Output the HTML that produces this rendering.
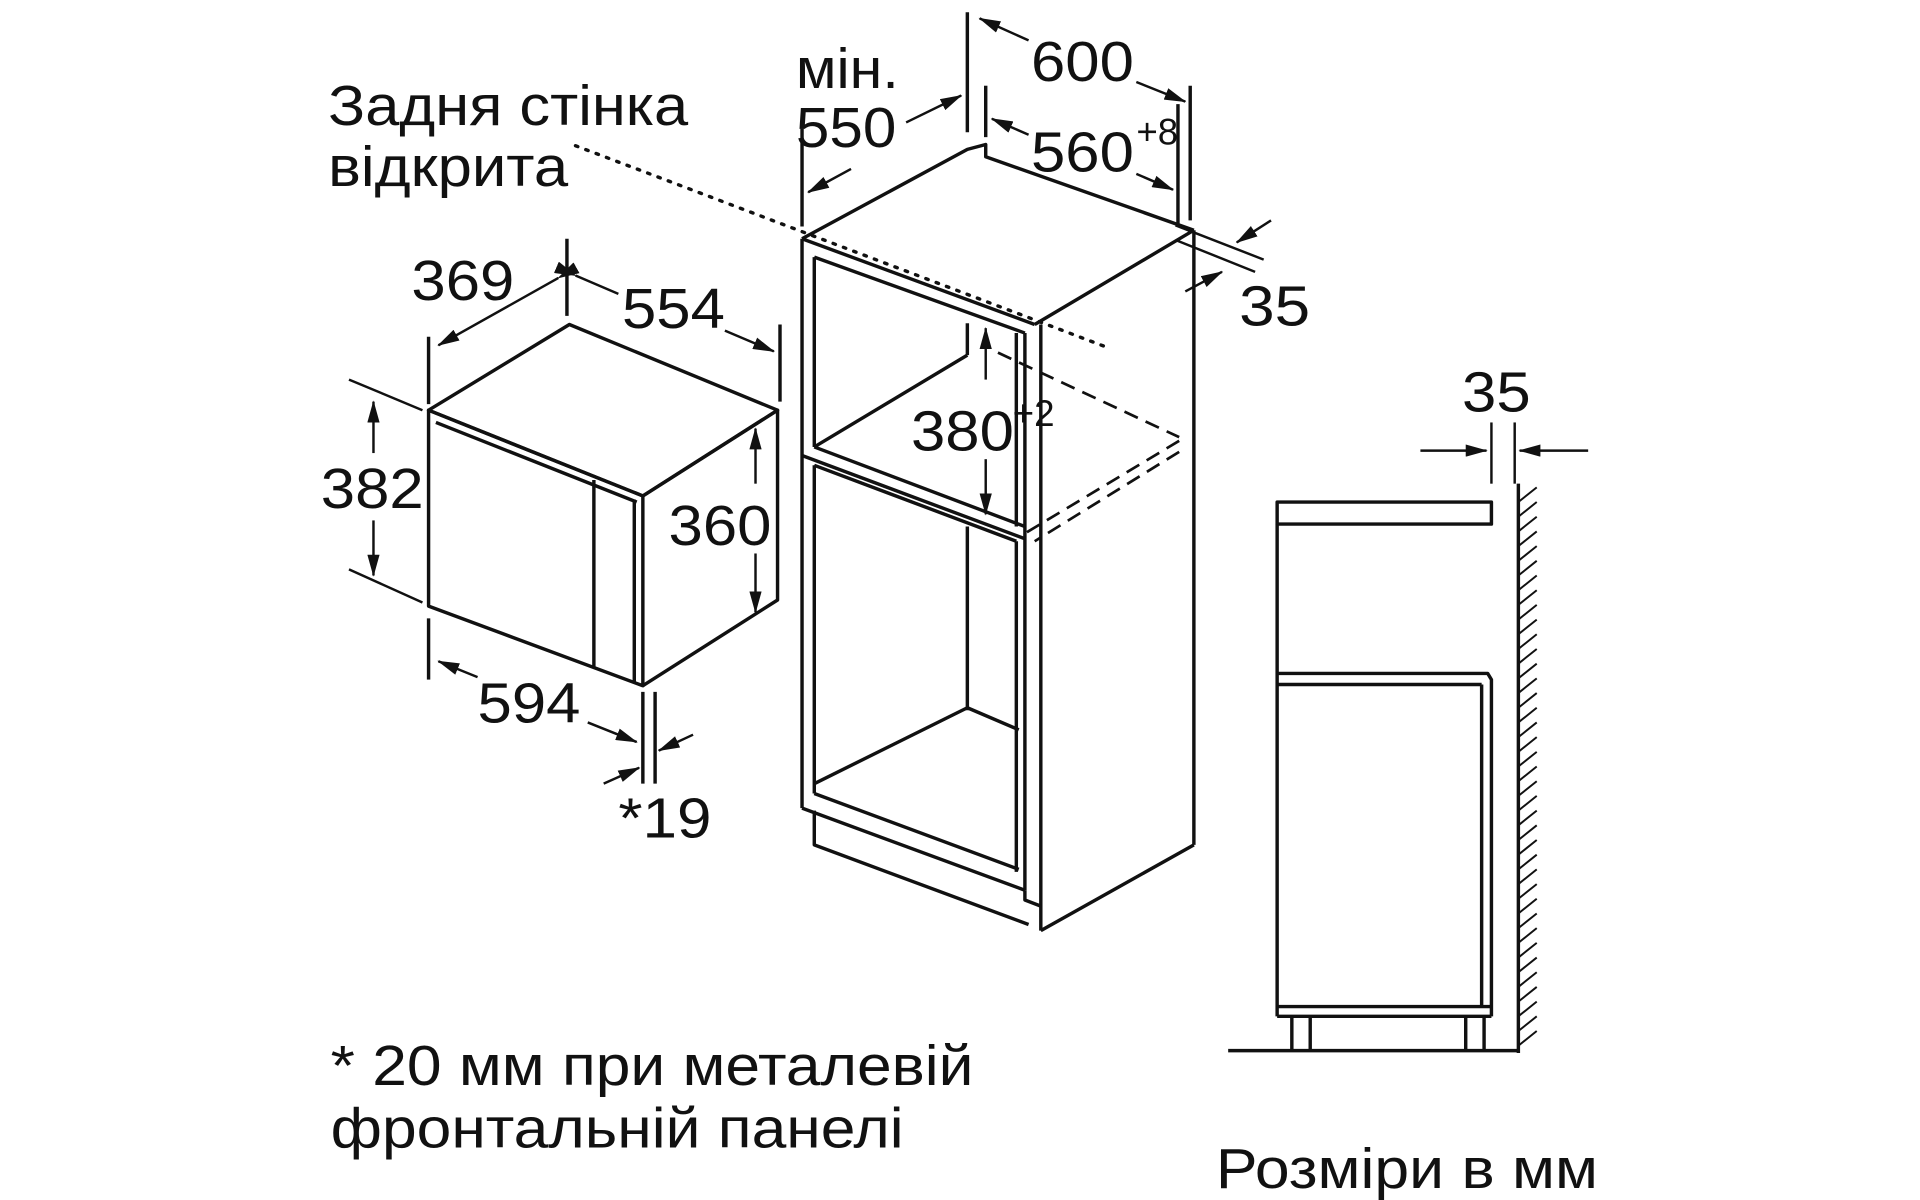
<!DOCTYPE html>
<html><head><meta charset="utf-8"><style>
html,body{margin:0;padding:0;background:#fff;}
svg{display:block;}
text{font-family:"Liberation Sans Narrow","Liberation Sans",sans-serif;fill:#111;}
</style></head><body>
<svg width="1920" height="1200" viewBox="0 0 1568 980" xmlns="http://www.w3.org/2000/svg">
<defs>
<marker id="a" markerWidth="18" markerHeight="10" refX="17" refY="5" orient="auto" markerUnits="userSpaceOnUse" viewBox="0 0 18 10">
<path d="M0,0 L18,5 L0,10 z" fill="#111"/></marker>
</defs>
<g stroke="#111" stroke-width="2.8" fill="none" stroke-linejoin="round">
<!-- microwave -->
<polygon points="350,335 465,265 635,335 525,405" fill="#fff"/>
<polygon points="350,335 525,405 525,560 350,495"/>
<line x1="356" y1="345" x2="520" y2="410"/>
<line x1="485" y1="392" x2="485" y2="545"/>
<line x1="518" y1="408" x2="518" y2="557"/>
<polyline points="525,405 635,335 635,490 525,560"/>
<!-- microwave dims -->
<line x1="350" y1="275" x2="350" y2="330"/>
<line x1="463" y1="195" x2="463" y2="258"/>
<line x1="637" y1="265" x2="637" y2="328"/>
<line x1="456" y1="227" x2="358" y2="282" marker-end="url(#a)" marker-start="url(#a)" stroke-width="2"/>
<line x1="470" y1="225" x2="505" y2="240" marker-start="url(#a)" stroke-width="2"/>
<line x1="592" y1="270" x2="632" y2="287" marker-end="url(#a)" stroke-width="2"/>
<line x1="285" y1="310" x2="345" y2="335" stroke-width="2"/>
<line x1="285" y1="465" x2="345" y2="492" stroke-width="2"/>
<line x1="305" y1="370" x2="305" y2="328" marker-end="url(#a)" stroke-width="2"/>
<line x1="305" y1="425" x2="305" y2="470" marker-end="url(#a)" stroke-width="2"/>
<line x1="617" y1="395" x2="617" y2="350" marker-end="url(#a)" stroke-width="2"/>
<line x1="617" y1="452" x2="617" y2="500" marker-end="url(#a)" stroke-width="2"/>
<line x1="350" y1="505" x2="350" y2="555"/>
<line x1="525" y1="565" x2="525" y2="640"/>
<line x1="535" y1="565" x2="535" y2="640"/>
<line x1="390" y1="553" x2="358" y2="540" marker-end="url(#a)" stroke-width="2"/>
<line x1="480" y1="590" x2="520" y2="606" marker-end="url(#a)" stroke-width="2"/>
<line x1="493" y1="640" x2="522" y2="627" marker-end="url(#a)" stroke-width="2"/>
<line x1="566" y1="600" x2="538" y2="613" marker-end="url(#a)" stroke-width="2"/>
<!-- dotted -->
<line x1="470" y1="119" x2="905" y2="284" stroke-dasharray="2,7" stroke-linecap="round" stroke-width="2.8"/>
<!-- cabinet -->
<polyline points="655,195 790,122 805,118 805,128 975,188"/>
<line x1="655" y1="195" x2="845" y2="265"/>
<line x1="975" y1="188" x2="845" y2="265"/>
<line x1="975" y1="188" x2="975" y2="690"/>
<line x1="975" y1="690" x2="850" y2="760"/>
<line x1="850" y1="265" x2="850" y2="760"/>
<line x1="655" y1="195" x2="655" y2="660"/>
<line x1="665" y1="210" x2="665" y2="365"/>
<line x1="665" y1="210" x2="837" y2="272"/>
<line x1="665" y1="365" x2="790" y2="290"/>
<polyline points="790,264 790,290"/>
<line x1="665" y1="365" x2="837" y2="430"/>
<line x1="655" y1="372" x2="837" y2="440"/>
<line x1="665" y1="380" x2="665" y2="648"/>
<line x1="665" y1="380" x2="830" y2="442"/>
<line x1="790" y1="430" x2="790" y2="580"/>
<line x1="665" y1="640" x2="790" y2="578"/>
<line x1="790" y1="578" x2="832" y2="596"/>
<line x1="665" y1="648" x2="832" y2="710"/>
<line x1="655" y1="660" x2="837" y2="727"/>
<line x1="830" y1="272" x2="830" y2="430"/>
<line x1="830" y1="442" x2="830" y2="712"/>
<line x1="837" y1="272" x2="837" y2="727"/>
<polyline points="665,662 665,690 840,755"/>
<polyline points="837,727 837,735 850,740"/>
<!-- dashed -->
<g stroke-dasharray="12,7" stroke-width="2.2">
<line x1="815" y1="288" x2="963" y2="357"/>
<line x1="963" y1="360" x2="838" y2="435"/>
<line x1="963" y1="369" x2="845" y2="442"/>
</g>
<!-- cabinet dims -->
<line x1="790" y1="10" x2="790" y2="108"/>
<line x1="972" y1="70" x2="972" y2="180"/>
<line x1="840" y1="33" x2="800" y2="15" marker-end="url(#a)" stroke-width="2"/>
<line x1="928" y1="67" x2="968" y2="83" marker-end="url(#a)" stroke-width="2"/>
<line x1="805" y1="70" x2="805" y2="112"/>
<line x1="962" y1="85" x2="962" y2="185"/>
<line x1="840" y1="110" x2="810" y2="97" marker-end="url(#a)" stroke-width="2"/>
<line x1="928" y1="142" x2="958" y2="155" marker-end="url(#a)" stroke-width="2"/>
<line x1="740" y1="100" x2="785" y2="78" marker-end="url(#a)" stroke-width="2"/>
<line x1="695" y1="138" x2="660" y2="157" marker-end="url(#a)" stroke-width="2"/>
<line x1="655" y1="105" x2="655" y2="185"/>
<line x1="960" y1="184" x2="1032" y2="212" stroke-width="2"/>
<line x1="960" y1="196" x2="1025" y2="222" stroke-width="2"/>
<line x1="1038" y1="180" x2="1010" y2="198" marker-end="url(#a)" stroke-width="2"/>
<line x1="968" y1="238" x2="998" y2="222" marker-end="url(#a)" stroke-width="2"/>
<line x1="805" y1="310" x2="805" y2="268" marker-end="url(#a)" stroke-width="2"/>
<line x1="805" y1="375" x2="805" y2="420" marker-end="url(#a)" stroke-width="2"/>
<!-- side view -->
<rect x="1043" y="410" width="175" height="18"/>
<line x1="1043" y1="428" x2="1043" y2="830"/>
<polyline points="1043,550 1215,550 1218,555 1218,830"/>
<line x1="1043" y1="559" x2="1210" y2="559"/>
<line x1="1210" y1="559" x2="1210" y2="822"/>
<line x1="1043" y1="822" x2="1218" y2="822"/>
<line x1="1043" y1="830" x2="1218" y2="830"/>
<polyline points="1055,830 1055,858"/>
<polyline points="1070,830 1070,858"/>
<polyline points="1197,830 1197,858"/>
<polyline points="1212,830 1212,858"/>
<line x1="1003" y1="858" x2="1240" y2="858"/>
<line x1="1240" y1="395" x2="1240" y2="860"/>
<line x1="1218" y1="345" x2="1218" y2="395" stroke-width="2"/>
<line x1="1237" y1="345" x2="1237" y2="395" stroke-width="2"/>
<line x1="1160" y1="368" x2="1214" y2="368" marker-end="url(#a)" stroke-width="2"/>
<line x1="1297" y1="368" x2="1241" y2="368" marker-end="url(#a)" stroke-width="2"/>
</g>
<g stroke="#111" stroke-width="1.6">
<path d="M1240,410 l15,-12 M1240,422 l15,-12 M1240,434 l15,-12 M1240,446 l15,-12 M1240,458 l15,-12 M1240,470 l15,-12 M1240,482 l15,-12 M1240,494 l15,-12 M1240,506 l15,-12 M1240,518 l15,-12 M1240,530 l15,-12 M1240,542 l15,-12 M1240,554 l15,-12 M1240,566 l15,-12 M1240,578 l15,-12 M1240,590 l15,-12 M1240,602 l15,-12 M1240,614 l15,-12 M1240,626 l15,-12 M1240,638 l15,-12 M1240,650 l15,-12 M1240,662 l15,-12 M1240,674 l15,-12 M1240,686 l15,-12 M1240,698 l15,-12 M1240,710 l15,-12 M1240,722 l15,-12 M1240,734 l15,-12 M1240,746 l15,-12 M1240,758 l15,-12 M1240,770 l15,-12 M1240,782 l15,-12 M1240,794 l15,-12 M1240,806 l15,-12 M1240,818 l15,-12 M1240,830 l15,-12 M1240,842 l15,-12 M1240,854 l15,-12"/>
</g>
<g font-size="46">
<text x="268" y="102" textLength="294" lengthAdjust="spacingAndGlyphs">Задня стінка</text>
<text x="268" y="152" textLength="196" lengthAdjust="spacingAndGlyphs">відкрита</text>
<text x="650" y="72" textLength="84" lengthAdjust="spacingAndGlyphs">мін.</text>
<text x="650" y="120" textLength="82" lengthAdjust="spacingAndGlyphs">550</text>
<text x="842" y="66" textLength="84" lengthAdjust="spacingAndGlyphs">600</text>
<text x="842" y="140" textLength="84" lengthAdjust="spacingAndGlyphs">560</text>
<text x="1012" y="266" textLength="58" lengthAdjust="spacingAndGlyphs">35</text>
<text x="336" y="245" textLength="84" lengthAdjust="spacingAndGlyphs">369</text>
<text x="508" y="268" textLength="84" lengthAdjust="spacingAndGlyphs">554</text>
<text x="262" y="415" textLength="84" lengthAdjust="spacingAndGlyphs">382</text>
<text x="546" y="445" textLength="84" lengthAdjust="spacingAndGlyphs">360</text>
<text x="744" y="368" textLength="84" lengthAdjust="spacingAndGlyphs">380</text>
<text x="390" y="590" textLength="84" lengthAdjust="spacingAndGlyphs">594</text>
<text x="505" y="684" textLength="76" lengthAdjust="spacingAndGlyphs">*19</text>
<text x="1194" y="336" textLength="56" lengthAdjust="spacingAndGlyphs">35</text>
<text x="270" y="886" textLength="525" lengthAdjust="spacingAndGlyphs">* 20 мм при металевій</text>
<text x="270" y="937" textLength="468" lengthAdjust="spacingAndGlyphs">фронтальній панелі</text>
<text x="993" y="970" textLength="312" lengthAdjust="spacingAndGlyphs">Розміри в мм</text>
</g>
<g font-size="30">
<text x="928" y="118">+8</text>
<text x="827" y="348">+2</text>
</g>
</svg>
</body></html>
